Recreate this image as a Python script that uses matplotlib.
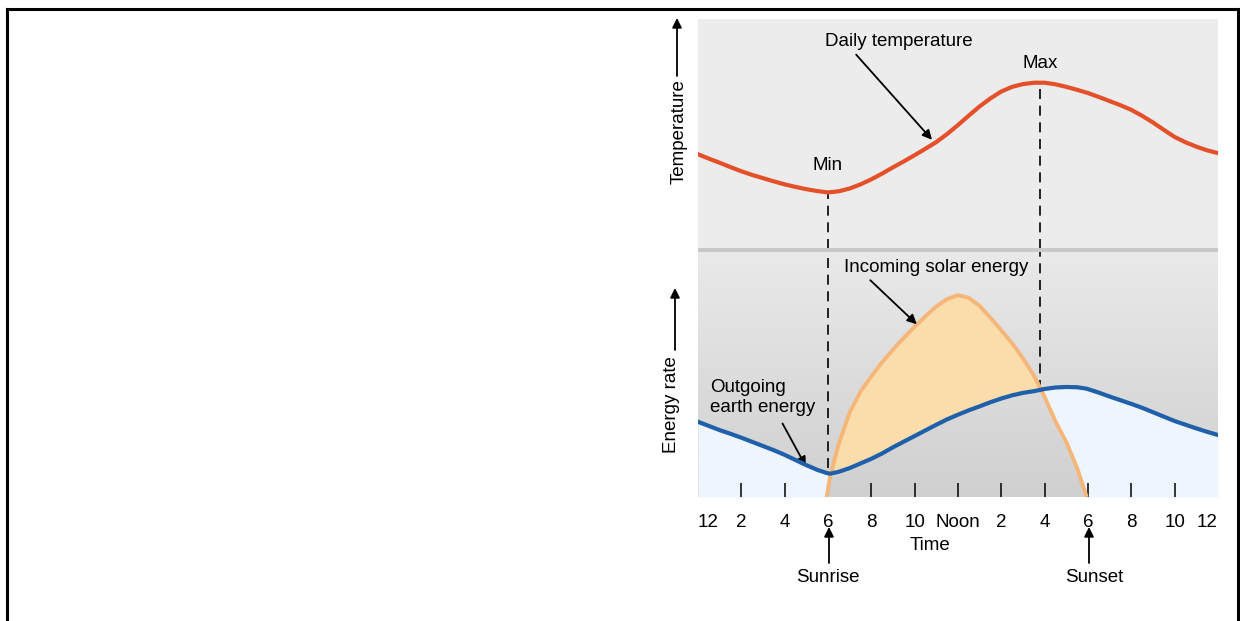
import numpy as np
import matplotlib.pyplot as plt
from matplotlib.patches import Rectangle
from matplotlib.lines import Line2D

plt.rcParams['font.family'] = ['Liberation Sans', 'DejaVu Sans']

# daily temperature (relative units, every half hour)
hours = [h / 2 for h in range(0, 49)]
temp = [41.2, 39.3, 37.5, 35.6, 33.8, 32.2, 30.8, 29.4, 28.1, 27.0, 26.0, 25.2, 24.6,
        25.1, 26.3, 28.1, 30.3, 32.8, 35.5, 38.1, 40.8, 43.6, 46.5, 50.0, 53.9, 58.0,
        62.0, 65.5, 68.5, 70.5, 71.7, 72.3, 72.3, 71.6, 70.5, 69.2, 67.8, 66.1, 64.3,
        62.5, 60.5, 57.9, 55.0, 51.8, 48.7, 46.4, 44.5, 42.9, 41.7]

# energy rates (relative units)
t = [0, 0.5, 1, 1.5, 2, 2.5, 3, 3.5, 4, 4.5, 5, 5.5, 5.94, 6.1, 6.5, 7, 7.5, 8, 8.5, 9,
     9.5, 10, 10.5, 11, 11.5, 12, 12.5, 13, 13.5, 14, 14.5, 15, 15.5, 15.78, 16, 16.5,
     17, 17.5, 17.94, 18.5, 19, 19.5, 20, 20.5, 21, 21.5, 22, 22.5, 23, 23.5, 24]
earth = [30.7, 29.0, 27.3, 25.8, 24.2, 22.5, 20.8, 19.1, 17.2, 15.1, 13.0, 11.1, 9.8,
         9.5, 10.3, 11.8, 13.7, 15.6, 17.8, 20.3, 22.6, 24.9, 27.2, 29.5, 31.7, 33.6,
         35.4, 37.0, 38.7, 40.2, 41.5, 42.5, 43.2, 43.7, 44.1, 44.7, 44.9, 44.8, 44.2,
         42.6, 41.0, 39.5, 38.0, 36.4, 34.6, 32.8, 31.0, 29.5, 28.0, 26.6, 25.3]
solar = [0, 0, 0, 0, 0, 0, 0, 0, 0, 0, 0, 0, 0, 8.5, 21.8, 34.5, 43.0, 49.3, 55.0, 60.2,
         65.0, 69.5, 73.8, 77.8, 80.8, 82.4, 81.3, 78.0, 73.2, 68.0, 62.7, 56.6, 49.6,
         44.8, 40.8, 30.8, 22.4, 11.8, 0, 0, 0, 0, 0, 0, 0, 0, 0, 0, 0, 0, 0]

tick_pos = list(range(0, 25, 2))
tick_labels = ['12', '2', '4', '6', '8', '10', 'Noon', '2', '4', '6', '8', '10', '12']

sunrise = 6
sunset = 18
min_hour = 6
max_hour = 15.8

W, H = 1240, 621
fig = plt.figure(figsize=(W / 100, H / 100), dpi=100)


def box(x0, y0, x1, y1):
    # pixel box (top-left origin) -> figure fraction rect
    return [x0 / W, 1 - y1 / H, (x1 - x0) / W, (y1 - y0) / H]


def fp(x, y):
    return (x, H - y)


fs = 13.5

# outer frame
for xs, ys in [([7, 7], [9, 621]), ([7, 1238], [9, 9]), ([1238, 1238], [9, 621])]:
    fig.add_artist(Line2D([x / W for x in xs], [1 - y / H for y in ys], color='black', lw=2.2))

# top panel: temperature
ax_t = fig.add_axes(box(698, 19, 1218, 249))
ax_t.set_facecolor('#ececec')
ax_t.set_xlim(0, 24)
ax_t.set_ylim(0, 100)
for s in ax_t.spines.values():
    s.set_visible(False)
ax_t.set_xticks([])
ax_t.set_yticks([])
ax_t.plot(hours, temp, color='#e4502a', lw=3, solid_joinstyle='round', zorder=3)

tmin = temp[hours.index(min_hour)]
tmax = max(temp)
ax_t.plot([min_hour, min_hour], [0, tmin], color='black', lw=1.2, dashes=(6, 4), zorder=2)
ax_t.plot([max_hour, max_hour], [0, tmax], color='black', lw=1.2, dashes=(6, 4), zorder=2)
ax_t.text(min_hour, 36.5, 'Min', ha='center', va='center', fontsize=fs)
ax_t.text(max_hour, 80.5, 'Max', ha='center', va='center', fontsize=fs)
ax_t.text(9.25, 90, 'Daily temperature', ha='center', va='center', fontsize=fs)
ax_t.annotate('', xy=(10.8, 47.5), xytext=(7.3, 84.5),
              arrowprops=dict(arrowstyle='-|>', color='black', lw=1.3, mutation_scale=14,
                              shrinkA=0, shrinkB=0))

# separator
fig.add_artist(Rectangle((698 / W, 1 - 252 / H), 520 / W, 3.5 / H,
                         transform=fig.transFigure, color='#c8c8c8', lw=0))

# bottom panel: energy
ax_e = fig.add_axes(box(698, 252, 1218, 497))
ax_e.set_xlim(0, 24)
ax_e.set_ylim(0, 100)
for s in ax_e.spines.values():
    s.set_visible(False)
grad = np.linspace(0.915, 0.815, 200)[:, None] * np.ones((1, 2))
ax_e.imshow(np.dstack([grad, grad, grad]), extent=[0, 24, 0, 100], aspect='auto',
            origin='upper', zorder=0)

t_a = np.array(t)
earth_a = np.array(earth)
solar_a = np.array(solar)
ax_e.fill_between(t_a, np.minimum(solar_a, earth_a), earth_a, color='#eef5fc', lw=0, zorder=1)
ax_e.fill_between(t_a, earth_a, solar_a, where=solar_a >= earth_a, interpolate=True,
                  color='#fbdcab', lw=0, zorder=1)
ax_e.plot(t_a, earth_a, color='#2060aa', lw=3, solid_joinstyle='round', zorder=4)
day = (t_a >= 5.94) & (t_a <= 17.94)
ax_e.plot(t_a[day], solar_a[day], color='#f5b679', lw=2.8, solid_joinstyle='round',
          solid_capstyle='butt', zorder=3)

ax_e.plot([min_hour, min_hour], [np.interp(min_hour, t_a, earth_a) + 2, 100],
          color='black', lw=1.2, dashes=(6, 4), zorder=2, clip_on=False)
ax_e.plot([max_hour, max_hour], [np.interp(max_hour, t_a, earth_a), 100],
          color='black', lw=1.2, dashes=(6, 4), zorder=2, clip_on=False)

ax_e.set_xticks(tick_pos)
ax_e.set_xticklabels(tick_labels, fontsize=fs)
ax_e.set_yticks([])
ax_e.tick_params(axis='x', direction='in', length=10, width=1.1, pad=12, color='black')
for i, tk in enumerate(ax_e.xaxis.get_major_ticks()):
    if tick_pos[i] in (0, 6, 24):
        tk.tick1line.set_visible(False)
labels = ax_e.get_xticklabels()
labels[0].set_ha('left')
labels[-1].set_ha('right')

ax_e.text(11.0, 93.5, 'Incoming solar energy', ha='center', va='center', fontsize=fs)
ax_e.annotate('', xy=(10.1, 70.5), xytext=(7.95, 88.5),
              arrowprops=dict(arrowstyle='-|>', color='black', lw=1.3, mutation_scale=14,
                              shrinkA=0, shrinkB=0))
ax_e.text(0.55, 40.5, 'Outgoing\nearth energy', ha='left', va='center', fontsize=fs,
          linespacing=1.25)
ax_e.annotate('', xy=(4.98, 12.5), xytext=(3.9, 30.0),
              arrowprops=dict(arrowstyle='-|>', color='black', lw=1.3, mutation_scale=14,
                              shrinkA=0, shrinkB=0))

# axis names and arrows
arr = dict(arrowstyle='-|>', color='black', lw=1.3, mutation_scale=14, shrinkA=0, shrinkB=0)
fig.text(679 / W, 1 - 132 / H, 'Temperature', rotation=90, ha='center', va='center', fontsize=fs)
ax_t.annotate('', xy=fp(677, 18), xytext=fp(677, 76),
              xycoords='figure pixels', textcoords='figure pixels', arrowprops=arr,
              annotation_clip=False)
fig.text(671 / W, 1 - 405 / H, 'Energy rate', rotation=90, ha='center', va='center', fontsize=fs)
ax_e.annotate('', xy=fp(675, 288), xytext=fp(675, 350),
              xycoords='figure pixels', textcoords='figure pixels', arrowprops=arr,
              annotation_clip=False)

fig.text(930 / W, 1 - 545 / H, 'Time', ha='center', va='center', fontsize=fs)
for hx, name, tx in [(sunrise, 'Sunrise', 828), (sunset, 'Sunset', 1094)]:
    px = 698 + hx * 520 / 24 + 1
    ax_e.annotate('', xy=fp(px, 527), xytext=fp(px, 563),
                  xycoords='figure pixels', textcoords='figure pixels', arrowprops=arr,
                  annotation_clip=False)
    fig.text(tx / W, 1 - 577 / H, name, ha='center', va='center', fontsize=fs)

fig.savefig('out.png', dpi=100)
